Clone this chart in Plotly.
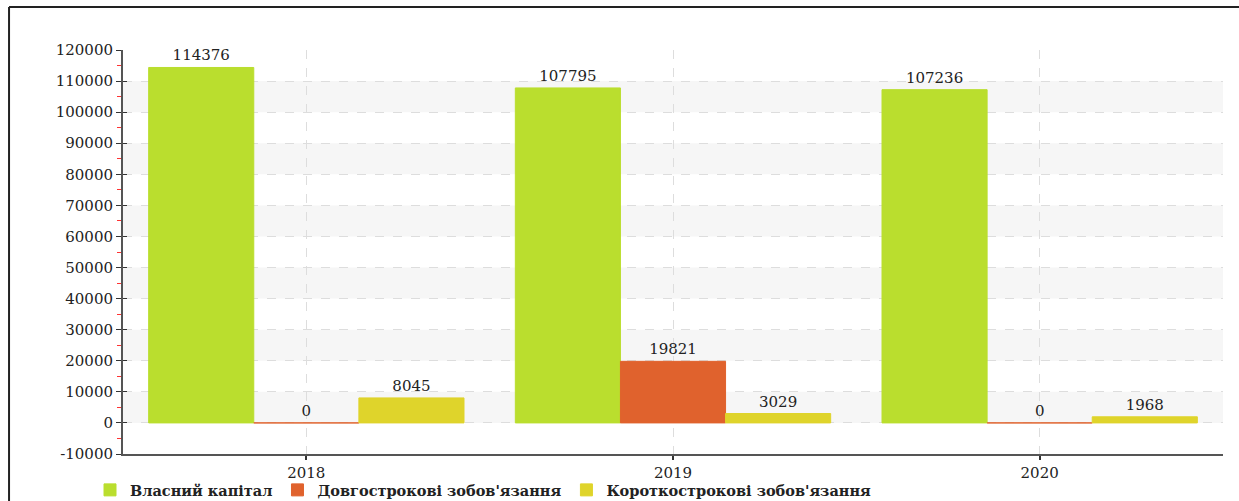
import plotly.graph_objects as go

# Balance structure by year
years = ["2018", "2019", "2020"]
equity = [114376, 107795, 107236]
long_term = [0, 19821, 0]
short_term = [8045, 3029, 1968]

series_names = ["Власний капітал", "Довгострокові зобов'язання", "Короткострокові зобов'язання"]
series_values = [equity, long_term, short_term]
series_colors = ["#bade2e", "#e0622d", "#dfd42b"]

y_ticks = list(range(-10000, 120001, 10000))

FONT = "DejaVu Serif"

fig = go.Figure()
for name, vals, col in zip(series_names, series_values, series_colors):
    fig.add_trace(go.Bar(
        x=years, y=vals, name=name,
        marker=dict(color=col, line=dict(color=col, width=1)),
        text=[str(v) for v in vals],
        textposition="outside",
        cliponaxis=False,
        textfont=dict(family=FONT, size=15, color="#222222"),
    ))

# Alternating light bands behind the bars
shapes = []
for lo in range(0, 120000, 20000):
    shapes.append(dict(type="rect", xref="paper", yref="y", x0=0, x1=1,
                       y0=lo, y1=lo + 10000, fillcolor="#f6f6f6",
                       line=dict(width=0), layer="below"))
# Frame lines along the top and left edges of the figure
shapes.append(dict(type="line", xref="paper", yref="paper",
                   x0=-0.1036, x1=1.02, y0=1.1064, y1=1.1064,
                   line=dict(color="#222222", width=2)))
shapes.append(dict(type="line", xref="paper", yref="paper",
                   x0=-0.1036, x1=-0.1036, y0=-0.12, y1=1.1064,
                   line=dict(color="#222222", width=2)))

fig.update_layout(
    width=1239, height=501,
    margin=dict(l=123, r=16, t=50, b=47, autoexpand=False),
    paper_bgcolor="white", plot_bgcolor="white",
    barmode="group", bargap=0.14, bargroupgap=0,
    font=dict(family=FONT, color="#222222"),
    shapes=shapes,
    showlegend=True,
    legend=dict(orientation="h", x=-0.03, xanchor="left", y=-0.089, yanchor="middle",
                font=dict(family=FONT, size=14.5, color="#222222", weight="bold"),
                itemwidth=30, tracegroupgap=0, bgcolor="rgba(0,0,0,0)"),
    xaxis=dict(
        type="category",
        showline=True, linecolor="#555555", linewidth=2,
        ticks="outside", ticklen=4, tickcolor="#333333", tickwidth=2,
        showgrid=True, gridcolor="#dddddd", griddash="dash", gridwidth=1,
        tickfont=dict(family=FONT, size=15, color="#222222"),
        zeroline=False,
    ),
    yaxis=dict(
        range=[-10000, 120000],
        tickvals=y_ticks, ticktext=[str(v) for v in y_ticks],
        showline=True, linecolor="#555555", linewidth=2,
        ticks="outside", ticklen=5, tickcolor="#333333", tickwidth=1,
        showgrid=True, gridcolor="#dddddd", griddash="dash", gridwidth=1,
        zeroline=False,
        tickfont=dict(family=FONT, size=15, color="#222222"),
        minor=dict(dtick=10000, tick0=5000, ticks="outside", ticklen=4,
                   tickcolor="#ff3333", tickwidth=1, showgrid=False),
    ),
    yaxis2=dict(
        overlaying="y", matches="y", side="left", anchor="x",
        range=[-10000, 120000], tickvals=y_ticks,
        showticklabels=False, showgrid=False, showline=False, zeroline=False,
        ticks="inside", ticklen=4, tickcolor="#333333", tickwidth=1,
    ),
)

# Invisible helper trace to show inner ticks on the overlaying axis
fig.add_trace(go.Scatter(x=years, y=[None, None, None], yaxis="y2",
                         showlegend=False, hoverinfo="skip"))

fig.write_html("out.html")
